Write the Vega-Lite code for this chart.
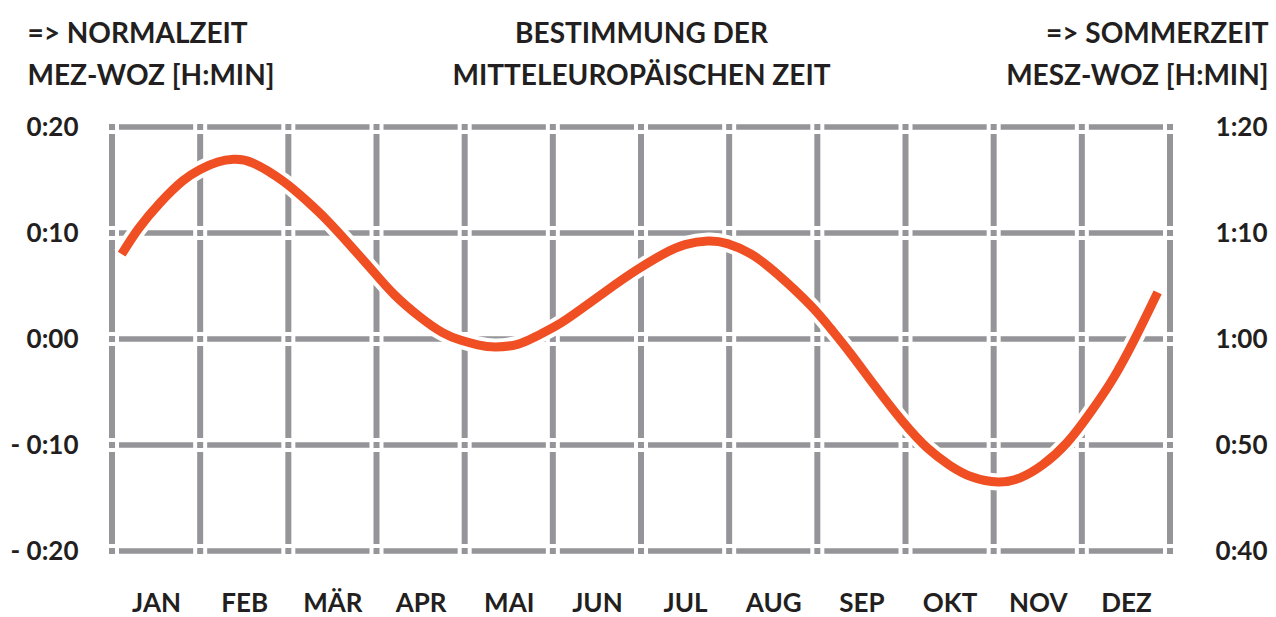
{
  "$schema": "https://vega.github.io/schema/vega-lite/v6.json",
  "width": 1058,
  "height": 424,
  "autosize": "none",
  "padding": {"left": 112, "top": 127, "right": 106, "bottom": 66},
  "background": "white",
  "config": {
    "view": {"stroke": null},
    "font": "Lato",
    "axis": {
      "domain": false, "ticks": false, "tickSize": 0, "grid": false,
      "labelFont": "Lato", "labelFontWeight": "bold", "labelFontSize": 26, "labelColor": "#231f20",
      "titleFont": "Lato", "titleFontWeight": "bold", "titleFontSize": 28, "titleColor": "#231f20",
      "titleLineHeight": 42
    }
  },
  "datasets": {
    "grid": [
      {"m": 0, "v": [20, 10, 0, -10, -20]}, {"m": 1, "v": [20, 10, 0, -10, -20]},
      {"m": 2, "v": [20, 10, 0, -10, -20]}, {"m": 3, "v": [20, 10, 0, -10, -20]},
      {"m": 4, "v": [20, 10, 0, -10, -20]}, {"m": 5, "v": [20, 10, 0, -10, -20]},
      {"m": 6, "v": [20, 10, 0, -10, -20]}, {"m": 7, "v": [20, 10, 0, -10, -20]},
      {"m": 8, "v": [20, 10, 0, -10, -20]}, {"m": 9, "v": [20, 10, 0, -10, -20]},
      {"m": 10, "v": [20, 10, 0, -10, -20]}, {"m": 11, "v": [20, 10, 0, -10, -20]},
      {"m": 12, "v": [20, 10, 0, -10, -20]}
    ],
    "levels": [{"v": 20}, {"v": 10}, {"v": 0}, {"v": -10}, {"v": -20}],
    "curve": [
      {"m": 0.11, "v": 8.0},
      {"m": 0.3, "v": 10.4},
      {"m": 0.54, "v": 12.8},
      {"m": 0.8, "v": 14.9},
      {"m": 1.0, "v": 16.0},
      {"m": 1.2, "v": 16.7},
      {"m": 1.38, "v": 16.95},
      {"m": 1.6, "v": 16.6},
      {"m": 1.94, "v": 14.9},
      {"m": 2.2, "v": 13.1},
      {"m": 2.44, "v": 11.2},
      {"m": 2.7, "v": 8.85},
      {"m": 2.96, "v": 6.4},
      {"m": 3.2, "v": 4.2},
      {"m": 3.49, "v": 2.1},
      {"m": 3.75, "v": 0.6},
      {"m": 3.95, "v": -0.1},
      {"m": 4.15, "v": -0.55},
      {"m": 4.35, "v": -0.75},
      {"m": 4.6, "v": -0.5},
      {"m": 4.8, "v": 0.2},
      {"m": 5.05, "v": 1.3},
      {"m": 5.3, "v": 2.7},
      {"m": 5.6, "v": 4.5},
      {"m": 5.95, "v": 6.5},
      {"m": 6.25, "v": 8.0},
      {"m": 6.5, "v": 8.9},
      {"m": 6.76, "v": 9.25},
      {"m": 6.98, "v": 9.0},
      {"m": 7.25, "v": 8.0},
      {"m": 7.55, "v": 6.1},
      {"m": 7.92, "v": 3.2},
      {"m": 8.15, "v": 1.0},
      {"m": 8.37, "v": -1.3},
      {"m": 8.65, "v": -4.4},
      {"m": 8.97, "v": -7.8},
      {"m": 9.25, "v": -10.3},
      {"m": 9.5, "v": -11.9},
      {"m": 9.75, "v": -13.0},
      {"m": 10.05, "v": -13.5},
      {"m": 10.3, "v": -13.1},
      {"m": 10.55, "v": -11.9},
      {"m": 10.83, "v": -9.8},
      {"m": 11.1, "v": -6.9},
      {"m": 11.35, "v": -3.8},
      {"m": 11.6, "v": 0.0},
      {"m": 11.86, "v": 4.4}
    ]
  },
  "resolve": {"axis": {"x": "independent", "y": "independent"}},
  "layer": [
    {
      "data": {"name": "grid"},
      "mark": {"type": "rule", "color": "#959599", "strokeWidth": 6, "strokeCap": "butt"},
      "encoding": {
        "x": {
          "field": "m", "type": "quantitative",
          "scale": {"domain": [0, 12], "nice": false, "zero": false},
          "axis": {
            "orient": "bottom",
            "values": [0.5, 1.5, 2.5, 3.5, 4.5, 5.5, 6.5, 7.5, 8.5, 9.5, 10.5, 11.5],
            "labelExpr": "['JAN','FEB','MÄR','APR','MAI','JUN','JUL','AUG','SEP','OKT','NOV','DEZ'][floor(datum.value)]",
            "labelPadding": 39, "labelAlign": "center", "labelBaseline": "top",
            "title": null
          }
        }
      }
    },
    {
      "data": {"name": "levels"},
      "mark": {"type": "rule", "color": "#959599", "strokeWidth": 5.5, "strokeCap": "butt"},
      "encoding": {
        "y": {
          "field": "v", "type": "quantitative",
          "scale": {"domain": [-20, 20], "nice": false, "zero": false},
          "axis": {
            "orient": "left",
            "values": [-20, -10, 0, 10, 20],
            "labelExpr": "datum.value == 0 ? '0:00' : (datum.value < 0 ? '- 0:' : '0:') + format(abs(datum.value), '02d')",
            "labelPadding": 34, "labelAlign": "right", "labelBaseline": "middle",
            "title": ["=> NORMALZEIT", "MEZ-WOZ [H:MIN]"],
            "titleAngle": 0, "titleAlign": "left", "titleBaseline": "alphabetic",
            "titleX": -85, "titleY": -85
          }
        }
      }
    },
    {
      "data": {"name": "grid"},
      "transform": [{"flatten": ["v"]}],
      "mark": {"type": "square", "color": "white", "opacity": 1, "size": 196, "filled": true, "strokeWidth": 0},
      "encoding": {
        "x": {"field": "m", "type": "quantitative", "scale": {"domain": [0, 12], "nice": false, "zero": false}, "axis": null},
        "y": {"field": "v", "type": "quantitative", "scale": {"domain": [-20, 20], "nice": false, "zero": false}, "axis": null}
      }
    },
    {
      "data": {"name": "grid"},
      "transform": [{"flatten": ["v"]}],
      "mark": {"type": "square", "color": "#959599", "opacity": 1, "size": 36, "filled": true, "strokeWidth": 0},
      "encoding": {
        "x": {"field": "m", "type": "quantitative", "scale": {"domain": [0, 12], "nice": false, "zero": false}, "axis": null},
        "y": {"field": "v", "type": "quantitative", "scale": {"domain": [-20, 20], "nice": false, "zero": false}, "axis": null}
      }
    },
    {
      "data": {"name": "curve"},
      "mark": {"type": "line", "color": "white", "strokeWidth": 17, "strokeCap": "butt", "interpolate": "natural"},
      "encoding": {
        "x": {
          "field": "m", "type": "quantitative",
          "scale": {"domain": [0, 12], "nice": false, "zero": false},
          "axis": {
            "orient": "top", "labels": false,
            "title": ["BESTIMMUNG DER", "MITTELEUROPÄISCHEN ZEIT"],
            "titleAlign": "center", "titleBaseline": "alphabetic", "titleAngle": 0,
            "titleX": 529, "titleY": -85
          }
        },
        "y": {
          "field": "v", "type": "quantitative",
          "scale": {"domain": [-20, 20], "nice": false, "zero": false},
          "axis": {
            "orient": "right",
            "values": [-20, -10, 0, 10, 20],
            "labelExpr": "floor((60 + datum.value) / 60) + ':' + format((60 + datum.value) % 60, '02d')",
            "labelPadding": 97, "labelAlign": "right", "labelBaseline": "middle",
            "title": ["=> SOMMERZEIT", "MESZ-WOZ [H:MIN]"],
            "titleAngle": 0, "titleAlign": "right", "titleBaseline": "alphabetic",
            "titleX": 98, "titleY": -85
          }
        }
      }
    },
    {
      "data": {"name": "curve"},
      "mark": {"type": "line", "color": "#ef4f23", "strokeWidth": 9, "strokeCap": "butt", "interpolate": "natural"},
      "encoding": {
        "x": {"field": "m", "type": "quantitative", "scale": {"domain": [0, 12], "nice": false, "zero": false}, "axis": null},
        "y": {"field": "v", "type": "quantitative", "scale": {"domain": [-20, 20], "nice": false, "zero": false}, "axis": null}
      }
    }
  ]
}
